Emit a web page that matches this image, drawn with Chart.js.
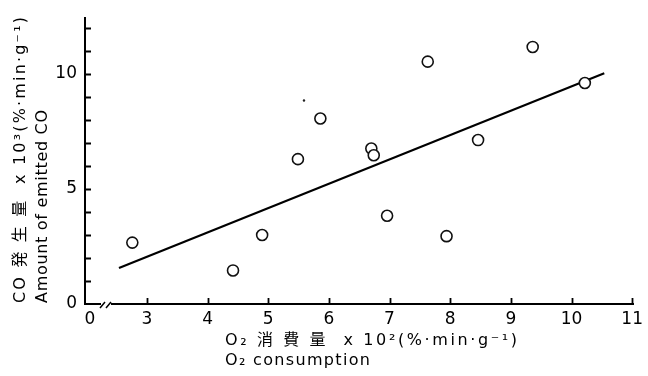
<!DOCTYPE html>
<html>
<head>
<meta charset="utf-8">
<script src="https://cdn.jsdelivr.net/npm/chart.js@4/dist/chart.umd.min.js"></script>
<style>
  html, body { margin: 0; padding: 0; background: #fff; }
  canvas { display: block; }
</style>
</head>
<body>
<canvas id="coChart" width="648" height="376"></canvas>
<script>
// O2 consumption (x10^2) vs amount of emitted CO (x10^3)
const o2Consumption = [2.76, 4.42, 4.90, 5.49, 5.86, 6.70, 6.74, 6.96, 7.63, 7.94, 8.46, 9.36, 10.22]
const coEmitted     = [2.67, 1.46, 3.00, 6.30, 8.07, 6.76, 6.47, 3.84, 10.54, 2.95, 7.13, 11.18, 9.61]

// regression line end points
const fitX = [2.54, 10.54]
const fitY = [1.57, 10.04]

// small speck in the scan
const speckX = [5.59]
const speckY = [8.85]

const xTicks = [3, 4, 5, 6, 7, 8, 9, 10, 11]
const yTicks = [1, 2, 3, 4, 5, 6, 7, 8, 9, 10, 11, 12]
const yLabels = [0, 5, 10]

const X_MIN = 1.98, X_MAX = 11.015
const Y_MIN = 0, Y_MAX = 12.43
const X_ZERO_AT = 2.06   // where the "0" of the broken axis sits

const FONT = "'DejaVu Sans', 'Noto Sans CJK JP', sans-serif"

const toPoints = (xs, ys) => xs.map((x, i) => ({ x: x, y: ys[i] }))

// ticks pointing into the plot, like the original
const inwardTicks = {
    id: 'inwardTicks',
    afterDraw(chart) {
        const ctx = chart.ctx
        const area = chart.chartArea
        const xs = chart.scales.x, ys = chart.scales.y
        ctx.save()
        ctx.strokeStyle = '#000'
        ctx.lineWidth = 1.8
        ctx.beginPath()
        yTicks.forEach(v => {
            const py = Math.round(ys.getPixelForValue(v)) + 0.5
            ctx.moveTo(area.left, py)
            ctx.lineTo(area.left + 6, py)
        })
        xTicks.forEach(v => {
            const px = Math.round(xs.getPixelForValue(v)) + 0.5
            ctx.moveTo(px, area.bottom)
            ctx.lineTo(px, area.bottom - 6)
        })
        ctx.stroke()

        // axis break
        const bx = area.left + 16
        ctx.fillStyle = '#fff'
        ctx.fillRect(bx, area.bottom - 3, 10, 6)
        ctx.lineWidth = 1.5
        ctx.beginPath()
        ctx.moveTo(bx - 1, area.bottom + 4)
        ctx.lineTo(bx + 4, area.bottom - 2)
        ctx.moveTo(bx + 5, area.bottom + 4)
        ctx.lineTo(bx + 10, area.bottom - 2)
        ctx.stroke()
        ctx.restore()
    }
}

// fit a line of text to the width it has in the original
function spreadText(ctx, text, x, y, width) {
    ctx.letterSpacing = '0px'
    const w = ctx.measureText(text).width
    const gap = (width - w) / (text.length - 1)
    ctx.letterSpacing = gap.toFixed(2) + 'px'
    ctx.fillText(text, x, y)
    ctx.letterSpacing = '0px'
}

// axis titles (two lines each, left aligned)
const axisTitles = {
    id: 'axisTitles',
    afterDraw(chart) {
        const ctx = chart.ctx
        ctx.save()
        ctx.fillStyle = '#000'
        ctx.font = '16px ' + FONT
        ctx.textBaseline = 'middle'
        ctx.textAlign = 'left'
        spreadText(ctx, 'O\u2082 \u6d88 \u8cbb \u91cf  x 10\u00b2(%\u00b7min\u00b7g\u207b\u00b9)', 225, 341, 292)
        spreadText(ctx, 'O\u2082 consumption', 225, 361, 145)

        ctx.translate(0, 303)
        ctx.rotate(-Math.PI / 2)
        spreadText(ctx, 'CO \u767a \u751f \u91cf  x 10\u00b3(%\u00b7min\u00b7g\u207b\u00b9)', 0, 21, 286)
        spreadText(ctx, 'Amount of emitted CO', 0, 43, 193)
        ctx.restore()
    }
}

new Chart(document.getElementById('coChart'), {
    type: 'scatter',
    data: {
        datasets: [{
            data: toPoints(o2Consumption, coEmitted),
            pointRadius: 5.5,
            pointBorderWidth: 1.6,
            pointBorderColor: '#111',
            pointBackgroundColor: '#fff'
        }, {
            data: toPoints(speckX, speckY),
            pointRadius: 1.2,
            pointBorderWidth: 0,
            pointBackgroundColor: '#222'
        }, {
            type: 'line',
            data: toPoints(fitX, fitY),
            borderColor: '#000',
            borderWidth: 2.2,
            pointRadius: 0,
            fill: false
        }]
    },
    options: {
        responsive: false,
        animation: false,
        layout: { padding: { top: 7, right: 11, left: 0, bottom: 0 } },
        plugins: {
            legend: { display: false },
            tooltip: { enabled: false }
        },
        scales: {
            x: {
                type: 'linear',
                min: X_MIN,
                max: X_MAX,
                afterFit: s => { s.height = 72 },
                afterBuildTicks: s => {
                    s.ticks = [{ value: X_ZERO_AT }].concat(xTicks.map(v => ({ value: v })))
                },
                ticks: {
                    autoSkip: false,
                    maxRotation: 0,
                    padding: 5,
                    color: '#000',
                    font: { family: FONT, size: 17 },
                    callback: (v, i) => i === 0 ? '0' : String(v)
                },
                grid: { drawOnChartArea: false, drawTicks: false },
                border: { display: true, color: '#000', width: 2 }
            },
            y: {
                min: Y_MIN,
                max: Y_MAX,
                afterFit: s => { s.width = 85 },
                afterBuildTicks: s => {
                    s.ticks = yLabels.map(v => ({ value: v }))
                },
                ticks: {
                    autoSkip: false,
                    padding: 8,
                    color: '#000',
                    font: { family: FONT, size: 17 },
                    callback: v => String(v)
                },
                grid: { drawOnChartArea: false, drawTicks: false },
                border: { display: true, color: '#000', width: 2 }
            }
        }
    },
    plugins: [inwardTicks, axisTitles]
})
</script>
</body>
</html>
